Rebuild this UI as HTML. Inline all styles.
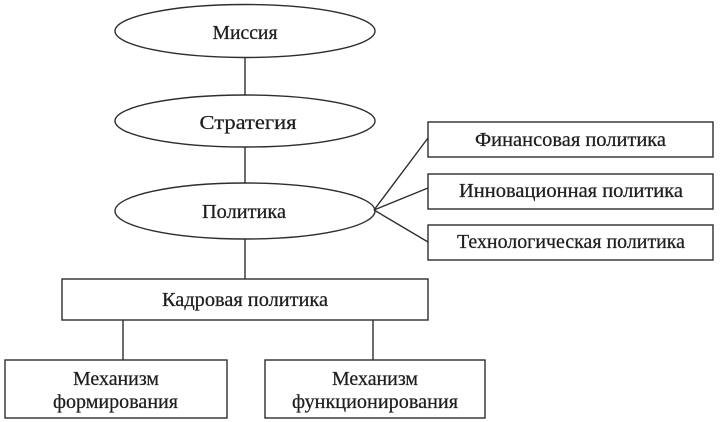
<!DOCTYPE html>
<html>
<head>
<meta charset="utf-8">
<style>
html,body{margin:0;padding:0;background:#fff;}
svg{display:block;}
text{font-family:"Liberation Serif","Noto Serif CJK SC",serif;font-size:19.5px;fill:#1e1e1e;stroke:#1e1e1e;stroke-width:0.25;}
</style>
</head>
<body>
<svg width="721" height="422" viewBox="0 0 721 422" xmlns="http://www.w3.org/2000/svg">
<g stroke="#2e2e2e" stroke-width="1.4" fill="none">
  <ellipse cx="245" cy="31" rx="130" ry="26.5"/>
  <ellipse cx="245" cy="121" rx="130" ry="26"/>
  <ellipse cx="245" cy="211" rx="130" ry="28"/>
  <line x1="245" y1="57.5" x2="245" y2="95"/>
  <line x1="245" y1="147" x2="245" y2="183"/>
  <line x1="245" y1="239" x2="245" y2="279"/>
  <line x1="374" y1="210" x2="428" y2="138"/>
  <line x1="374" y1="210" x2="428" y2="188"/>
  <line x1="374" y1="210" x2="428" y2="242"/>
  <rect x="428" y="122" width="285" height="35"/>
  <rect x="428" y="174" width="285" height="35"/>
  <rect x="428" y="225" width="285" height="35"/>
  <rect x="62" y="279" width="366" height="41"/>
  <line x1="123" y1="320" x2="123" y2="360"/>
  <line x1="373" y1="320" x2="373" y2="360"/>
  <rect x="5" y="360" width="222" height="58"/>
  <rect x="265" y="360" width="220" height="58"/>
</g>
<g text-anchor="middle">
  <text x="245" y="39" textLength="65" lengthAdjust="spacingAndGlyphs">Миссия</text>
  <text x="248" y="129" textLength="97" lengthAdjust="spacingAndGlyphs">Стратегия</text>
  <text x="244" y="218" textLength="84" lengthAdjust="spacingAndGlyphs">Политика</text>
  <text x="570.5" y="146" textLength="191" lengthAdjust="spacingAndGlyphs">Финансовая политика</text>
  <text x="571" y="197" textLength="224" lengthAdjust="spacingAndGlyphs">Инновационная политика</text>
  <text x="571" y="248" textLength="228" lengthAdjust="spacingAndGlyphs">Технологическая политика</text>
  <text x="245" y="306" textLength="166" lengthAdjust="spacingAndGlyphs">Кадровая политика</text>
  <text x="116" y="385" textLength="86" lengthAdjust="spacingAndGlyphs">Механизм</text>
  <text x="115.5" y="408" textLength="125" lengthAdjust="spacingAndGlyphs">формирования</text>
  <text x="375" y="385" textLength="86" lengthAdjust="spacingAndGlyphs">Механизм</text>
  <text x="375" y="408" textLength="166" lengthAdjust="spacingAndGlyphs">функционирования</text>
</g>
</svg>
</body>
</html>
